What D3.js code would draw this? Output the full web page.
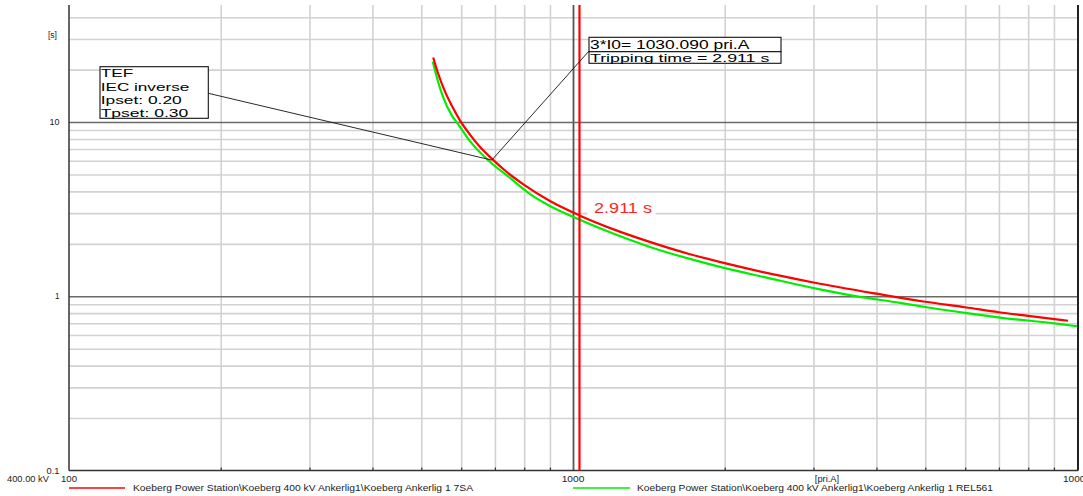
<!DOCTYPE html>
<html><head><meta charset="utf-8">
<script src="https://cdn.jsdelivr.net/npm/d3@7"></script>
<style>
html,body{margin:0;padding:0;background:#fff;overflow:hidden}
svg{display:block;font-family:"Liberation Sans",Arial,sans-serif}
</style></head><body>
<svg id="chart" width="1083" height="496"></svg>
<script>
// Time-overcurrent characteristics (primary current [A], tripping time [s])
const curve7SA_current = [528, 540, 557, 575, 597, 625, 654, 695, 739, 800, 900, 1030.09, 1200, 1400, 1700, 2000, 2500, 3000, 4000, 5000, 6000, 7000, 8000, 9600];
const curve7SA_time    = [23.5, 19.0, 15.0, 12.4, 10.2, 8.45, 7.2, 6.05, 5.17, 4.36, 3.52, 2.911, 2.43, 2.08, 1.75, 1.55, 1.335, 1.20, 1.035, 0.93, 0.865, 0.81, 0.772, 0.724];
const curveREL561_current = [527, 540, 552, 575, 592, 625, 685, 750, 822, 900, 1000, 1184, 1421, 1786, 2002, 2423, 3021, 3656, 4456, 4994, 6041, 7035, 9115, 10000];
const curveREL561_time    = [22.2, 17.0, 14.0, 10.9, 9.7, 7.75, 5.90, 4.78, 3.86, 3.30, 2.86, 2.33, 1.92, 1.58, 1.45, 1.28, 1.11, 1.00, 0.917, 0.868, 0.80, 0.755, 0.697, 0.673];

const seriesNames = [
  "Koeberg Power Station\\Koeberg 400 kV Ankerlig1\\Koeberg Ankerlig 1 7SA",
  "Koeberg Power Station\\Koeberg 400 kV Ankerlig1\\Koeberg Ankerlig 1 REL561"
];
const seriesColors = ["#ff0000", "#00ee00"];

// Fault current marker and relay settings
const faultCurrent = 1030.09;
const tripTime = 2.911;
const settingPoint = [690, 6.05];
const settingLines = ["TEF", "IEC inverse", "Ipset: 0.20", "Tpset: 0.30"];
const tripLines = ["3*I0= 1030.090 pri.A", "Tripping time = 2.911 s"];

// Axis ticks
const xMajor = [100, 1000, 10000];
const xMinor = [200, 300, 400, 500, 600, 700, 800, 900, 2000, 3000, 4000, 5000, 6000, 7000, 8000, 9000];
const yMajor = [0.1, 1, 10];
const yMinor = [0.2, 0.3, 0.4, 0.5, 0.6, 0.7, 0.8, 0.9, 2, 3, 4, 5, 6, 7, 8, 9, 20, 30, 40];
const xTickLabels = ["100", "1000", "10000"];
const yTickLabels = ["0.1", "1", "10"];

const svg = d3.select("#chart");
const plotLeft = 69, plotRight = 1077, plotTop = 5, plotBottom = 470.5;
const x = d3.scaleLog().domain([100, 10000]).range([plotLeft, plotRight]);
const y = d3.scaleLog().domain([0.1, 47]).range([plotBottom, plotTop]);

// stretched text helper
function label(px, py, str, size, width, anchor, fill) {
  return svg.append("text").attr("x", px).attr("y", py)
    .attr("font-size", size).attr("text-anchor", anchor || "start")
    .attr("fill", fill || "#222").attr("textLength", width)
    .attr("lengthAdjust", "spacingAndGlyphs").text(str);
}

// minor grid
svg.append("g").attr("transform", `translate(0,${plotBottom})`)
  .call(d3.axisBottom(x).tickValues(xMinor).tickSize(-(plotBottom - plotTop)).tickFormat(""))
  .call(g => g.select(".domain").remove())
  .call(g => g.selectAll("line").attr("stroke", "#d2d2d2").attr("stroke-width", 1.6));
svg.append("g").attr("transform", `translate(${plotLeft},0)`)
  .call(d3.axisLeft(y).tickValues(yMinor).tickSize(-(plotRight - plotLeft)).tickFormat(""))
  .call(g => g.select(".domain").remove())
  .call(g => g.selectAll("line").attr("stroke", "#d2d2d2").attr("stroke-width", 1.6));

// major grid
svg.append("g").attr("transform", `translate(0,${plotBottom})`)
  .call(d3.axisBottom(x).tickValues([1000]).tickSize(-(plotBottom - plotTop)).tickFormat(""))
  .call(g => g.select(".domain").remove())
  .call(g => g.selectAll("line").attr("stroke", "#555").attr("stroke-width", 1.8));
svg.append("g").attr("transform", `translate(${plotLeft},0)`)
  .call(d3.axisLeft(y).tickValues([1, 10]).tickSize(-(plotRight - plotLeft)).tickFormat(""))
  .call(g => g.select(".domain").remove())
  .call(g => g.selectAll("line").attr("stroke", "#6a6a6a").attr("stroke-width", 1.5));

// small ticks on the bottom axis
svg.append("g").attr("transform", `translate(0,${plotBottom})`)
  .call(d3.axisBottom(x).tickValues(xMinor).tickSize(-3).tickFormat(""))
  .call(g => g.select(".domain").remove())
  .call(g => g.selectAll("line").attr("stroke", "#333").attr("stroke-width", 1.2));

// frame: left, bottom, right
svg.append("line").attr("x1", plotLeft).attr("x2", plotLeft).attr("y1", plotTop).attr("y2", plotBottom).attr("stroke", "#333").attr("stroke-width", 1.5);
svg.append("line").attr("x1", plotLeft).attr("x2", plotRight + 1).attr("y1", plotBottom).attr("y2", plotBottom).attr("stroke", "#333").attr("stroke-width", 1.5);
svg.append("line").attr("x1", x(10000) + 1).attr("x2", x(10000) + 1).attr("y1", plotTop).attr("y2", plotBottom).attr("stroke", "#222").attr("stroke-width", 2);

// tick labels
const xLabelW = [16, 22.7, 28];
xMajor.forEach((v, i) => label(x(v), 481.5, xTickLabels[i], 8.5, xLabelW[i], "middle"));
const yLabelW = [13, 4.5, 10];
yMajor.forEach((v, i) => label(59.5, y(v) + 3, yTickLabels[i], 8.5, yLabelW[i], "end"));
label(57, 37.5, "[s]", 8.5, 9, "end");
label(7, 481.5, "400.00 kV", 8.5, 42, "start");
label(827, 481.5, "[pri.A]", 8.5, 24.3, "middle");

// curves
const line = d3.line().x(d => x(d[0])).y(d => y(d[1])).curve(d3.curveMonotoneX);
const data7SA = curve7SA_current.map((c, i) => [c, curve7SA_time[i]]);
const dataREL = curveREL561_current.map((c, i) => [c, curveREL561_time[i]]);
svg.append("path").datum(dataREL).attr("d", line).attr("fill", "none")
  .attr("stroke", seriesColors[1]).attr("stroke-width", 2.2);
svg.append("path").datum(data7SA).attr("d", line).attr("fill", "none")
  .attr("stroke", seriesColors[0]).attr("stroke-width", 2.2);

// fault current marker
svg.append("line").attr("x1", x(faultCurrent)).attr("x2", x(faultCurrent))
  .attr("y1", plotTop).attr("y2", plotBottom).attr("stroke", "#ff0000").attr("stroke-width", 2.2);

// tripping time label
svg.append("rect").attr("x", x(faultCurrent) + 8).attr("y", 202).attr("width", 68).attr("height", 13).attr("fill", "#fff");
label(x(faultCurrent) + 14.5, 213.3, tripTime.toFixed(3) + " s", 14, 58, "start", "#ff2525");

// leader lines
const px = x(settingPoint[0]), py = y(settingPoint[1]);
svg.append("line").attr("x1", 208.3).attr("y1", 93.3).attr("x2", px).attr("y2", py).attr("stroke", "#111").attr("stroke-width", 0.9);
svg.append("line").attr("x1", 589).attr("y1", 51).attr("x2", px).attr("y2", py).attr("stroke", "#111").attr("stroke-width", 0.9);

// settings box
svg.append("rect").attr("x", 100).attr("y", 66.7).attr("width", 108.3).attr("height", 51.6)
  .attr("fill", "#fff").attr("stroke", "#111").attr("stroke-width", 1.1);
const settingBase = [77.4, 90.7, 104.0, 117.3];
const settingW = [32.7, 88.6, 81, 87.6];
settingLines.forEach((s, i) => label(100.7, settingBase[i], s, 11.8, settingW[i], "start", "#000"));

// tripping box
svg.append("rect").attr("x", 589).attr("y", 37.3).attr("width", 192).attr("height", 14.4)
  .attr("fill", "#fff").attr("stroke", "#111").attr("stroke-width", 1.1);
svg.append("rect").attr("x", 589).attr("y", 51.7).attr("width", 192).attr("height", 11.6)
  .attr("fill", "#fff").attr("stroke", "#111").attr("stroke-width", 1.1);
label(590, 48.8, tripLines[0], 12, 159.3, "start", "#000");
label(590, 62.0, tripLines[1], 11.8, 179.3, "start", "#000");

// legend
svg.append("line").attr("x1", 69).attr("x2", 125).attr("y1", 488).attr("y2", 488).attr("stroke", seriesColors[0]).attr("stroke-width", 1.6);
label(133, 491, seriesNames[0], 8.5, 340, "start", "#222");
svg.append("line").attr("x1", 573).attr("x2", 630).attr("y1", 488).attr("y2", 488).attr("stroke", seriesColors[1]).attr("stroke-width", 1.6);
label(637, 491, seriesNames[1], 8.5, 356, "start", "#222");
</script>
</body></html>
